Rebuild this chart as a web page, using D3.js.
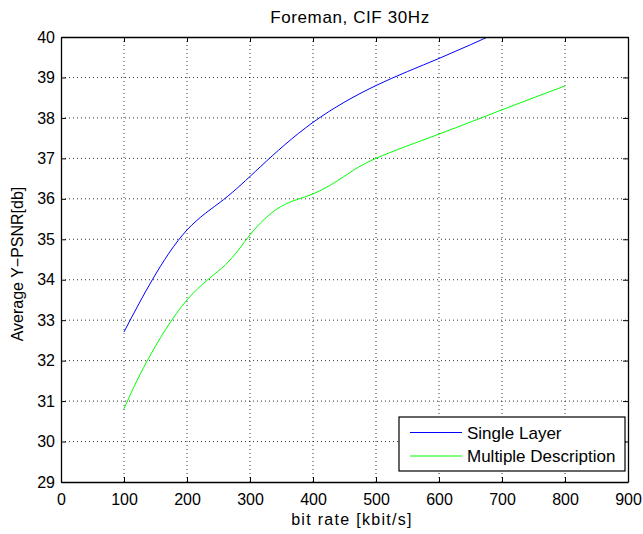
<!DOCTYPE html>
<html>
<head>
<meta charset="utf-8">
<script src="https://cdn.jsdelivr.net/npm/d3@7"></script>
<style>
  body { margin: 0; background: #fff; }
  svg { font-family: "Liberation Sans", Arial, sans-serif; }
  .grid line { stroke: #000; stroke-dasharray: 1,3; stroke-width: 0.8; }
</style>
</head>
<body>
<svg width="643" height="534"></svg>
<script>
// values
const singleRate = [100, 145, 200, 258, 317, 400, 500, 600, 700];
const singlePsnr = [32.71, 34.0, 35.23, 35.98, 36.8, 37.89, 38.8, 39.47, 40.16];
const mdRate = [100, 137, 200, 261, 300, 348, 400, 449, 500, 600, 700, 800];
const mdPsnr = [30.81, 32.0, 33.5, 34.37, 35.11, 35.8, 36.12, 36.55, 37.0, 37.6, 38.2, 38.79];
const xTicks = [0, 100, 200, 300, 400, 500, 600, 700, 800, 900];
const yTicks = [29, 30, 31, 32, 33, 34, 35, 36, 37, 38, 39, 40];

const svg = d3.select('svg');
const m = {left: 61, top: 37, right: 628, bottom: 482};

const x = d3.scaleLinear().domain([0, 900]).range([m.left, m.right]);
const y = d3.scaleLinear().domain([29, 40]).range([m.bottom, m.top]);

// grid
const grid = svg.append('g').attr('class', 'grid');
grid.selectAll('.gx').data(xTicks.slice(1, -1)).enter().append('line')
  .attr('x1', d => x(d)).attr('x2', d => x(d))
  .attr('y1', m.top).attr('y2', m.bottom);
grid.selectAll('.gy').data(yTicks.slice(1, -1)).enter().append('line')
  .attr('y1', d => y(d)).attr('y2', d => y(d))
  .attr('x1', m.left).attr('x2', m.right);

svg.append('defs').append('clipPath').attr('id', 'clip')
  .append('rect').attr('x', m.left).attr('y', m.top)
  .attr('width', m.right - m.left).attr('height', m.bottom - m.top);

const line = d3.line().x(d => x(d[0])).y(d => y(d[1])).curve(d3.curveNatural);
const plot = svg.append('g').attr('clip-path', 'url(#clip)');
plot.append('path').datum(d3.zip(singleRate, singlePsnr))
  .attr('d', line).attr('fill', 'none').attr('stroke', '#0000ff').attr('stroke-width', 1);
plot.append('path').datum(d3.zip(mdRate, mdPsnr))
  .attr('d', line).attr('fill', 'none').attr('stroke', '#00ff00').attr('stroke-width', 1);

// axes, MATLAB style: ticks inside, on all four sides
const tick = 5;
const fmt = d3.format('d');
const axBottom = svg.append('g').attr('transform', `translate(0,${m.bottom})`)
  .call(d3.axisBottom(x).tickValues(xTicks).tickFormat(fmt).tickSizeInner(-tick).tickSizeOuter(0).tickPadding(12));
const axTop = svg.append('g').attr('transform', `translate(0,${m.top})`)
  .call(d3.axisTop(x).tickValues(xTicks).tickFormat('').tickSizeInner(-tick).tickSizeOuter(0));
const axLeft = svg.append('g').attr('transform', `translate(${m.left},0)`)
  .call(d3.axisLeft(y).tickValues(yTicks).tickFormat(fmt).tickSizeInner(-tick).tickSizeOuter(0).tickPadding(6));
const axRight = svg.append('g').attr('transform', `translate(${m.right},0)`)
  .call(d3.axisRight(y).tickValues(yTicks).tickFormat('').tickSizeInner(-tick).tickSizeOuter(0));
[axBottom, axTop, axLeft, axRight].forEach(g => {
  g.selectAll('text').attr('font-size', 16).attr('fill', '#000')
    .attr('font-family', '"Liberation Sans", Arial, sans-serif');
  g.selectAll('line').attr('stroke', '#000');
  g.select('.domain').attr('stroke', '#000').attr('stroke-width', 1.3);
});

svg.append('text').attr('x', 350).attr('y', 23).attr('text-anchor', 'middle')
  .attr('font-size', 17).attr('letter-spacing', 0.6).text('Foreman, CIF 30Hz');
svg.append('text').attr('x', 352).attr('y', 525).attr('text-anchor', 'middle')
  .attr('font-size', 16).attr('letter-spacing', 1.3).text('bit rate [kbit/s]');
svg.append('text').attr('transform', 'translate(23,264) rotate(-90)')
  .attr('text-anchor', 'middle').attr('font-size', 16).text('Average Y\u2212PSNR[db]');

// legend
const legendItems = [['Single Layer', '#0000ff'], ['Multiple Description', '#00ff00']];
const lg = svg.append('g').attr('transform', 'translate(399,417)');
lg.append('rect').attr('width', 226).attr('height', 54)
  .attr('fill', '#fff').attr('stroke', '#000').attr('stroke-width', 1.2);
const items = lg.selectAll('.item').data(legendItems).enter().append('g')
  .attr('transform', (d, i) => `translate(0,${15.5 + i * 23.5})`);
items.append('line').attr('x1', 11).attr('x2', 63)
  .attr('stroke', d => d[1]).attr('stroke-width', 1.2);
items.append('text').attr('x', 68).attr('y', 6).attr('font-size', 17).text(d => d[0]);
</script>
</body>
</html>
